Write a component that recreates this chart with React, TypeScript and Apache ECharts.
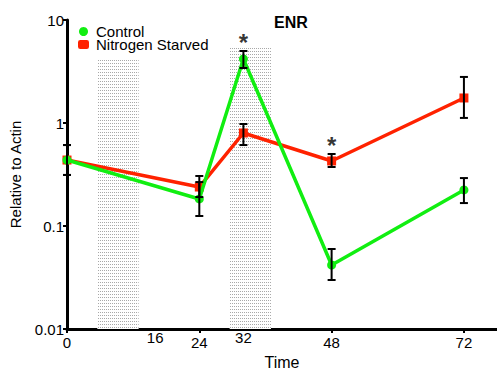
import React, { useEffect, useRef } from "react";
import * as echarts from "echarts";

const times = [0, 24, 32, 48, 72];
const controlMean = [0.437, 0.183, 4.18, 0.0418, 0.224];
const controlLow = [0.313, 0.125, 3.42, 0.0299, 0.167];
const controlHigh = [0.611, 0.267, 5.0, 0.0598, 0.292];
const starvedMean = [0.437, 0.239, 0.8, 0.428, 1.75];
const starvedLow = [0.313, 0.191, 0.611, 0.374, 1.12];
const starvedHigh = [0.611, 0.306, 0.978, 0.5, 2.8];
const xLabelValues = [0, 16, 24, 32, 48, 72];
const xTickValues = [0, 24, 48, 72];
const darkPeriods = [
  { from: 5.5, to: 13, top: 4.1 },
  { from: 29.5, to: 37, top: 5.35 },
];
const significant = [
  { t: 32, y: 6.0 },
  { t: 48, y: 0.6 },
];

function makePattern(): string {
  const c = document.createElement("canvas");
  c.width = 2;
  c.height = 3;
  const ctx = c.getContext("2d")!;
  ctx.fillStyle = "#ffffff";
  ctx.fillRect(0, 0, 2, 3);
  ctx.fillStyle = "#a8a8a8";
  ctx.fillRect(0, 0, 1, 1);
  return c.toDataURL();
}

export default function App() {
  const ref = useRef<HTMLDivElement>(null);
  useEffect(() => {
    document.body.style.margin = "0";
    if (!ref.current) return;
    const chart = echarts.init(ref.current, undefined, { renderer: "svg" });
    const pattern = { image: makePattern(), repeat: "repeat" };
    const font = "Liberation Sans";
    const errData = (lo: number[], hi: number[]) =>
      times.map((t, i) => [t, lo[i], hi[i]]);
    const renderErr = (params: any, api: any) => {
      const x = api.value(0);
      const top = api.coord([x, api.value(2)]);
      const bot = api.coord([x, api.value(1)]);
      const w = 4;
      const st = { stroke: "#000", lineWidth: 2 };
      return {
        type: "group",
        children: [
          { type: "line", shape: { x1: top[0], y1: top[1], x2: bot[0], y2: bot[1] }, style: st },
          { type: "line", shape: { x1: top[0] - w, y1: top[1], x2: top[0] + w, y2: top[1] }, style: st },
          { type: "line", shape: { x1: bot[0] - w, y1: bot[1], x2: bot[0] + w, y2: bot[1] }, style: st },
        ],
      };
    };
    chart.setOption({
      animation: false,
      textStyle: { fontFamily: font },
      title: {
        text: "ENR",
        left: 286,
        top: 9,
        textAlign: "center",
        textStyle: { fontSize: 16, fontWeight: "bold", color: "#000", fontFamily: font },
      },
      legend: {
        orient: "vertical",
        left: 73,
        top: 19,
        itemGap: -2,
        itemWidth: 11,
        itemHeight: 9,
        textStyle: { fontSize: 15, lineHeight: 13, color: "#000", fontFamily: font, padding: [0, 0, 0, 2] },
        data: [
          { name: "Control", icon: "circle" },
          { name: "Nitrogen Starved", icon: "roundRect" },
        ],
      },
      grid: { left: 67, right: 0, top: 20, bottom: 41, outerBoundsMode: "none", containLabel: false },
      xAxis: {
        type: "value",
        min: 0,
        max: 78,
        name: "Time",
        nameLocation: "middle",
        nameGap: 17,
        nameTextStyle: { fontSize: 16, color: "#000", fontFamily: font },
        axisLine: { lineStyle: { color: "#000", width: 3 } },
        axisTick: { show: true, customValues: xTickValues, length: 4, lineStyle: { color: "#000", width: 2 } },
        axisLabel: {
          customValues: xLabelValues,
          fontSize: 15,
          color: "#000",
          margin: 1,
          formatter: (v: number) => (v === 16 || v === 32 ? `{up|${v}}` : `{n|${v}}`),
          rich: {
            up: { fontSize: 15, color: "#000", padding: [0, 0, 0, 0], fontFamily: font },
            n: { fontSize: 15, color: "#000", padding: [5, 0, 0, 0], fontFamily: font },
          },
        },
        splitLine: { show: false },
      },
      yAxis: {
        type: "log",
        logBase: 10,
        min: 0.01,
        max: 10,
        name: "Relative to Actin",
        nameLocation: "middle",
        nameGap: 44,
        nameTextStyle: { fontSize: 15, color: "#000", fontFamily: font },
        axisLine: { show: true, lineStyle: { color: "#000", width: 3 } },
        axisTick: { show: true, length: 4, lineStyle: { color: "#000", width: 2 } },
        axisLabel: { fontSize: 15, color: "#000", margin: 3 },
        splitLine: { show: false },
      },
      series: [
        {
          name: "Nitrogen Starved",
          type: "line",
          data: times.map((t, i) => [t, starvedMean[i]]),
          symbol: "rect",
          symbolSize: 9,
          lineStyle: { color: "#ff2200", width: 3.5 },
          itemStyle: { color: "#ff2200" },
          z: 3,
          markArea: {
            silent: true,
            itemStyle: { color: pattern as any },
            data: darkPeriods.map((d) => [
              { xAxis: d.from, yAxis: 0.01 },
              { xAxis: d.to, yAxis: d.top },
            ]),
          },
        },
        {
          name: "Control",
          type: "line",
          data: times.map((t, i) => [t, controlMean[i]]),
          symbol: "circle",
          symbolSize: 9,
          lineStyle: { color: "#11ee11", width: 3.5 },
          itemStyle: { color: "#11ee11" },
          z: 4,
        },
        {
          type: "custom",
          renderItem: renderErr,
          data: errData(starvedLow, starvedHigh),
          encode: { x: 0, y: [1, 2] },
          z: 5,
          silent: true,
        },
        {
          type: "custom",
          renderItem: renderErr,
          data: errData(controlLow, controlHigh),
          encode: { x: 0, y: [1, 2] },
          z: 5,
          silent: true,
        },
        {
          type: "scatter",
          data: significant.map((s) => [s.t, s.y]),
          symbolSize: 1,
          itemStyle: { color: "transparent" },
          label: {
            show: true,
            formatter: "*",
            position: "inside",
            fontSize: 24,
            fontWeight: "bold",
            color: "#000",
            fontFamily: font,
          },
          z: 6,
          silent: true,
        },
      ],
    });
    return () => chart.dispose();
  }, []);
  return <div ref={ref} style={{ width: 497, height: 370 }} />;
}
